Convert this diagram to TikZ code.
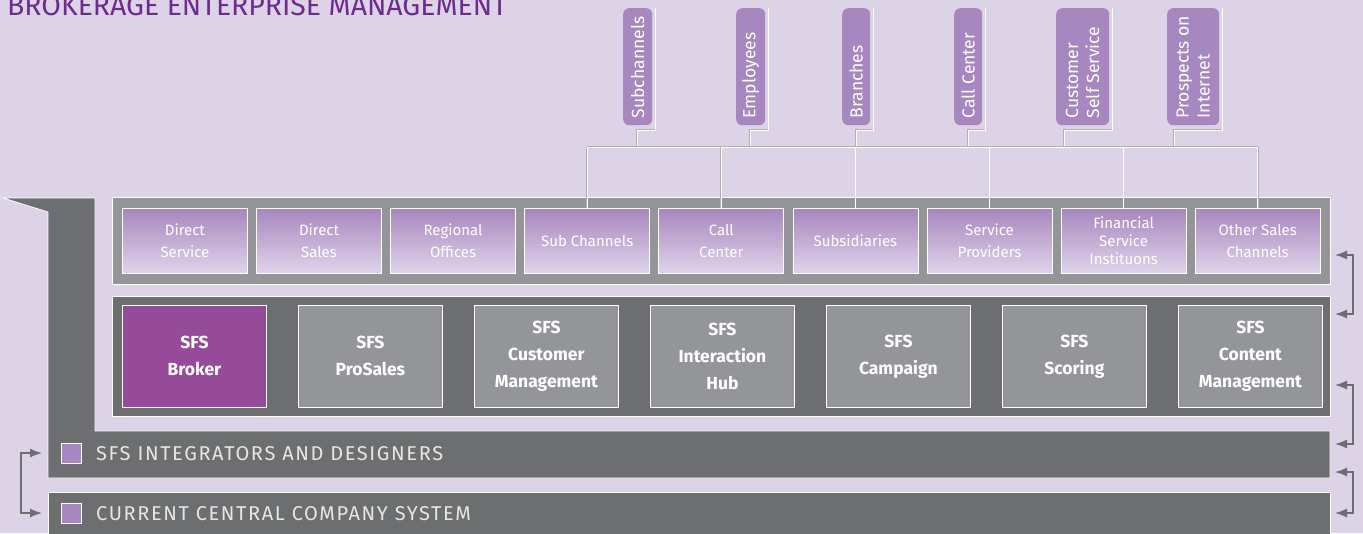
\documentclass[tikz,border=0pt]{standalone}
\usepackage{fontspec}
\setmainfont{Fira Sans}
\usetikzlibrary{arrows.meta,positioning}

\definecolor{lavender}{HTML}{DCD3E7}
\definecolor{darkgray}{HTML}{6D6E70}
\definecolor{midgray}{HTML}{939598}
\definecolor{tabpurple}{HTML}{A687BF}
\definecolor{brokerpurple}{HTML}{954B9A}
\definecolor{titlepurple}{HTML}{6E2A8E}
\definecolor{chantop}{HTML}{A886BE}
\definecolor{chanbot}{HTML}{DFD4EA}
\definecolor{bartextgray}{HTML}{E6E6E6}

\begin{document}
\begin{tikzpicture}
[
x=1pt, y=-1pt,
every node/.style={inner sep=0pt, text=white},
tab/.style={fill=tabpurple, rounded corners=6pt, minimum height=117pt, anchor=north west, font=\fontsize{17.5}{21}\selectfont},
chanbox/.style={draw=white, line width=0.8pt, top color=chantop, bottom color=chanbot, minimum width=125pt, minimum height=65pt, anchor=north west, align=center, font=\fontsize{15}{22}\selectfont},
sfsbox/.style={draw=white, line width=0.8pt, fill=midgray, minimum width=144pt, minimum height=102pt, anchor=north west, align=center, font=\bfseries\fontsize{17.5}{27}\selectfont},
rowbox/.style={draw=white, line width=0.8pt, minimum width=1218pt, anchor=north west},
marker/.style={draw=white, line width=0.8pt, fill=tabpurple, minimum size=20pt},
bartext/.style={anchor=base west, text=bartextgray, font=\fontsize{20}{20}\selectfont\addfontfeature{LetterSpace=8}},
wire/.style={draw=gray!60, double=white, double distance=0.9pt, line width=0.4pt},
arr/.style={draw=darkgray, line width=1.3pt, {Latex[length=12pt,width=9pt]}-{Latex[length=12pt,width=9pt]}}
]

\fill[lavender] (0,0) rectangle (1363,533);
\useasboundingbox (0,0) rectangle (1363,533);

\node[anchor=base west, text=titlepurple, font=\fontsize{28.4}{29}\selectfont] (title) at (7,15) {BROKERAGE ENTERPRISE MANAGEMENT};

% channels on top
\foreach \x/\w/\d/\txt [count=\i] in {623/29/637/Subchannels, 736/29/750/Employees, 842/28/856/Branches, 954/28/968/Call Center, 1056/53/1064/{Customer\\Self Service}, 1167/52/1174/{Prospects on\\Internet}}
{
  \node[tab, minimum width=\w pt] (tab\i) at (\x,8) {\rotatebox{90}{\parbox{103pt}{\raggedright \txt}}};
  \coordinate (bend\i) at (\d,130);
  \coordinate (drop\i) at (\d,147);
  \draw[wire] ([xshift=3pt]tab\i.north east) |- (bend\i) -- (drop\i);
}

% L shaped bar and bottom bars
\draw[draw=white, line width=0.8pt, fill=darkgray] (3,198) -- (95,198) -- (95,431) -- (1330,431) -- (1330,478) -- (48,478) -- (48,212) -- cycle;
\draw[draw=white, line width=0.8pt, fill=darkgray] (48,492) rectangle (1330,545);

\node[rowbox, fill=midgray, minimum height=87pt] (chanrow) at (112,197) {};
\node[rowbox, fill=darkgray, minimum height=120pt] (sfsrow) at (112,296) {};

\foreach \txt [count=\i] in {{Direct\\Service}, {Direct\\Sales}, {Regional\\Offices}, Sub Channels, {Call\\Center}, Subsidiaries, {Service\\Providers}, {Financial\\[-4pt]Service\\[-4pt]Instituons}, {Other Sales\\Channels}}
  \node[chanbox] (chan\i) at ({122+134.1*(\i-1)},208) {\txt};

\coordinate (bus) at (0,147);
\draw[wire] (chan4.north |- bus) -- (chan9.north |- bus);
\foreach \i in {4,...,9}
  \draw[wire] (chan\i.north |- bus) -- (chan\i.north);

\node[sfsbox, fill=brokerpurple] (sfs1) at (122,305) {SFS\\Broker};
\foreach \txt [count=\i from 2] in {{SFS\\ProSales}, {SFS\\Customer\\Management}, {SFS\\Interaction\\Hub}, {SFS\\Campaign}, {SFS\\Scoring}, {SFS\\Content\\Management}}
  \node[sfsbox] (sfs\i) at ({122+176*(\i-1)},305) {\txt};

\node[marker] (mark1) at (71,453) {};
\node[bartext] (integ) at (96,460) {SFS INTEGRATORS AND DESIGNERS};
\node[marker] (mark2) at (71,513) {};
\node[bartext] (central) at (96,520) {CURRENT CENTRAL COMPANY SYSTEM};

% brackets
\coordinate (la) at (42,453);
\coordinate (lb) at (42,513);
\draw[arr] (la) -- ++(-21,0) |- (lb);
\foreach \a/\b [count=\i] in {255/314, 385/444, 472/513}
{
  \coordinate (ra\i) at (1335,\a);
  \coordinate (rb\i) at (1335,\b);
  \draw[arr] (ra\i) -- ++(18,0) |- (rb\i);
}
\end{tikzpicture}
\end{document}
